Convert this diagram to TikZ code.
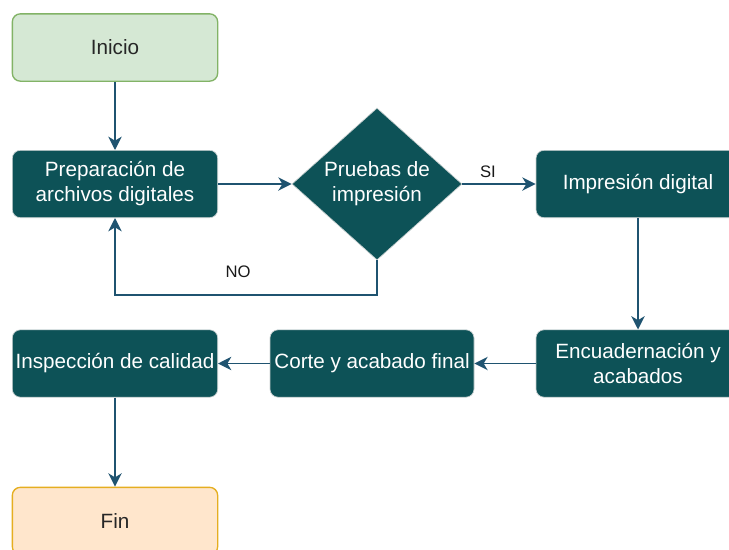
\documentclass[tikz,border=0pt]{standalone}
\usepackage{fontspec}
\setmainfont{Liberation Sans}
\usetikzlibrary{shapes.geometric,arrows.meta}
\definecolor{darkbox}{HTML}{0D5257}
\definecolor{arrowc}{HTML}{1F5370}
\definecolor{startfill}{HTML}{D5E8D4}
\definecolor{startline}{HTML}{82B366}
\definecolor{endfill}{HTML}{FFE6CC}
\definecolor{endline}{HTML}{E5AE20}
\definecolor{edgegray}{HTML}{C8D0D0}
\tikzset{
  procbox/.style={rectangle, rounded corners=6pt, fill=darkbox, draw=edgegray, line width=0.5pt,
    minimum width=154pt, minimum height=50.5pt, inner sep=0pt, text=white,
    font=\fontsize{15.5pt}{18.75pt}\selectfont, align=center},
  startbox/.style={procbox, fill=startfill, draw=startline, line width=1pt, text=black!85},
  endbox/.style={procbox, fill=endfill, draw=endline, line width=1pt, text=black!85},
  decision/.style={diamond, fill=darkbox, draw=edgegray, line width=0.5pt, minimum width=127.5pt,
    minimum height=114pt, inner sep=0pt, text=white,
    font=\fontsize{15.5pt}{18.75pt}\selectfont, align=center},
  flow/.style={draw=arrowc, line width=1.1pt, -{Stealth[length=10pt,width=10pt,inset=3pt]}},
  lbl/.style={font=\fontsize{12.5pt}{15pt}\selectfont, text=black!90, inner sep=0pt}
}
\begin{document}
\begin{tikzpicture}[x=0.75pt,y=-0.75pt]
\useasboundingbox (0,0) rectangle (729,550);
\node[startbox] (inicio) at (115,47.5) {Inicio};
\node[procbox] (prep) at (115,184) {Preparación de\\archivos digitales};
\node[decision] (prueba) at (377,184) {Pruebas de\\impresión};
\node[procbox, minimum width=153pt] (impr) at (638,184) {Impresión digital};
\node[procbox, minimum width=153pt] (encu) at (638,363.5) {Encuadernación y\\acabados};
\node[procbox, minimum width=153pt] (corte) at (372,363.5) {Corte y acabado final};
\node[procbox] (insp) at (115,363.5) {Inspección de calidad};
\node[endbox] (fin) at (115,521) {Fin};
\coordinate (c1) at (377,295);
\coordinate (c2) at (115,295);
\draw[flow] (inicio) -- (prep);
\draw[flow] (prep) -- (prueba);
\draw[flow] (prueba) -- (impr);
\draw[flow] (prueba.south) -- (c1) -- (c2) -- (prep.south);
\draw[flow] (impr) -- (encu);
\draw[flow] (encu) -- (corte);
\draw[flow] (corte) -- (insp);
\draw[flow] (insp) -- (fin);
\node[lbl] (si) at (488,172) {SI};
\node[lbl] (no) at (238,272) {NO};
\end{tikzpicture}
\end{document}
